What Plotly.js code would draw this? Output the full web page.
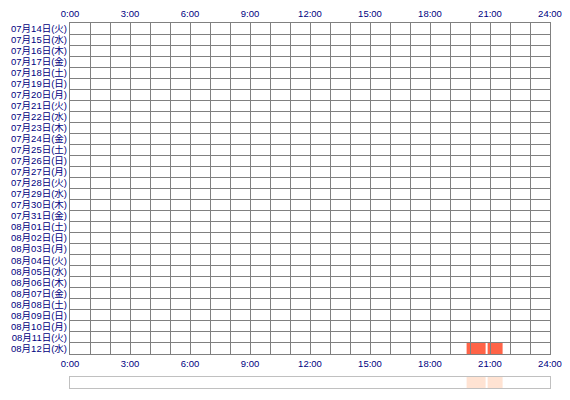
<!DOCTYPE html>
<html>
<head>
<meta charset="utf-8">
<script src="https://cdn.plot.ly/plotly-3.0.1.min.js"></script>
<style>
  body { margin: 0; background: #fff; }
  #chart { width: 570px; height: 400px; }
</style>
</head>
<body>
<div id="chart"></div>
<script>
// 日付ごとの行
const days = [
  "07月14日(火)", "07月15日(水)", "07月16日(木)", "07月17日(金)", "07月18日(土)",
  "07月19日(日)", "07月20日(月)", "07月21日(火)", "07月22日(水)", "07月23日(木)",
  "07月24日(金)", "07月25日(土)", "07月26日(日)", "07月27日(月)", "07月28日(火)",
  "07月29日(水)", "07月30日(木)", "07月31日(金)", "08月01日(土)", "08月02日(日)",
  "08月03日(月)", "08月04日(火)", "08月05日(水)", "08月06日(木)", "08月07日(金)",
  "08月08日(土)", "08月09日(日)", "08月10日(月)", "08月11日(火)", "08月12日(水)"
];

// 時間軸のラベル
const hourTicks = [0, 3, 6, 9, 12, 15, 18, 21, 24];
const hourLabels = ["0:00", "3:00", "6:00", "9:00", "12:00", "15:00", "18:00", "21:00", "24:00"];

// ログイン時間帯 (時)
const sessDay = ["08月12日(水)", "08月12日(水)"];
const sessStart = [19.83, 20.88];
const sessEnd = [20.78, 21.63];

const navy = "#000080";
const gridGrey = "#808080";
const tickFont = { family: "Liberation Sans, Noto Sans CJK JP, sans-serif", size: 9.5, color: navy };

const rowCenters = days.map((d, i) => i + 0.5);
const sessRow = sessDay.map(d => days.indexOf(d) + 0.5);
const sessLen = sessStart.map((s, i) => sessEnd[i] - s);

const data = [
  {
    type: "bar",
    orientation: "h",
    y: sessRow,
    base: sessStart,
    x: sessLen,
    width: sessRow.map(() => 1),
    marker: { color: "#ff6347", line: { width: 0 } },
    xaxis: "x",
    yaxis: "y",
    hoverinfo: "skip"
  },
  {
    // 上側の時刻ラベル用
    type: "scatter",
    mode: "markers",
    x: [],
    y: [],
    xaxis: "x3",
    yaxis: "y",
    hoverinfo: "skip"
  },
  {
    // グリッドを棒の上に描くための空のサブプロット
    type: "scatter",
    mode: "markers",
    x: [],
    y: [],
    xaxis: "x2",
    yaxis: "y2",
    hoverinfo: "skip"
  },
  {
    type: "bar",
    orientation: "h",
    y: sessStart.map(() => 0.5),
    base: sessStart,
    x: sessLen,
    width: sessStart.map(() => 1),
    marker: { color: "#ffe3d3", line: { width: 0 } },
    xaxis: "x4",
    yaxis: "y4",
    hoverinfo: "skip"
  }
];

const mainDomain = [0.0932, 1];

const layout = {
  width: 570,
  height: 400,
  margin: { l: 70, r: 20, t: 23, b: 12 },
  paper_bgcolor: "#ffffff",
  plot_bgcolor: "rgba(0,0,0,0)",
  showlegend: false,
  barmode: "overlay",
  xaxis: {
    domain: [0, 1],
    range: [0, 24],
    anchor: "y",
    tickmode: "array",
    tickvals: hourTicks,
    ticktext: hourLabels,
    ticks: "",
    showgrid: false,
    zeroline: false,
    showline: false,
    tickfont: tickFont,
    ticklabelstandoff: 3
  },
  yaxis: {
    domain: mainDomain,
    range: [days.length, 0],
    anchor: "x",
    tickmode: "array",
    tickvals: rowCenters,
    ticktext: days,
    ticks: "",
    showgrid: false,
    zeroline: false,
    showline: false,
    tickfont: tickFont,
    ticklabelstandoff: 2
  },
  xaxis2: {
    domain: [0, 1],
    range: [0, 24],
    anchor: "y2",
    tickmode: "linear",
    tick0: 0,
    dtick: 1,
    showticklabels: false,
    ticks: "",
    showgrid: true,
    gridcolor: gridGrey,
    gridwidth: 1,
    zeroline: false,
    showline: true,
    mirror: true,
    linecolor: gridGrey,
    linewidth: 1
  },
  yaxis2: {
    domain: mainDomain,
    range: [days.length, 0],
    anchor: "x2",
    tickmode: "linear",
    tick0: 0,
    dtick: 1,
    showticklabels: false,
    ticks: "",
    showgrid: true,
    gridcolor: gridGrey,
    gridwidth: 1,
    zeroline: false,
    showline: true,
    mirror: true,
    linecolor: gridGrey,
    linewidth: 1
  },
  xaxis3: {
    overlaying: "x",
    side: "top",
    anchor: "y",
    range: [0, 24],
    tickmode: "array",
    tickvals: hourTicks,
    ticktext: hourLabels,
    ticks: "",
    showgrid: false,
    zeroline: false,
    showline: false,
    tickfont: tickFont,
    ticklabelstandoff: 3
  },
  xaxis4: {
    domain: [0, 1],
    range: [0, 24],
    anchor: "y4",
    showticklabels: false,
    ticks: "",
    showgrid: false,
    zeroline: false,
    showline: true,
    mirror: true,
    linecolor: "#c0c0c0",
    linewidth: 1
  },
  yaxis4: {
    domain: [0, 0.0301],
    range: [0, 1],
    anchor: "x4",
    showticklabels: false,
    ticks: "",
    showgrid: false,
    zeroline: false,
    showline: true,
    mirror: true,
    linecolor: "#c0c0c0",
    linewidth: 1
  }
};

Plotly.newPlot("chart", data, layout, { staticPlot: true, displayModeBar: false });
</script>
</body>
</html>
